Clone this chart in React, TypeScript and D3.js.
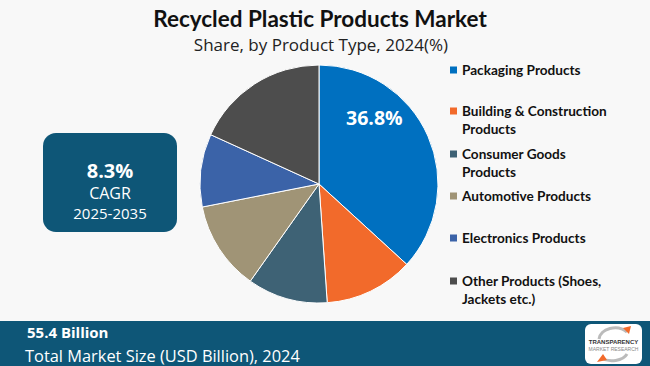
import React, { useEffect, useRef } from 'react';
import * as d3 from 'd3';

// 製品タイプ別シェア (2024)
const categories = [
  'Packaging Products',
  'Building & Construction Products',
  'Consumer Goods Products',
  'Automotive Products',
  'Electronics Products',
  'Other Products (Shoes, Jackets etc.)',
];
const legendLines = [
  ['Packaging Products'],
  ['Building & Construction', 'Products'],
  ['Consumer Goods', 'Products'],
  ['Automotive Products'],
  ['Electronics Products'],
  ['Other Products (Shoes,', 'Jackets etc.)'],
];
const shares = [36.8, 12.1, 10.9, 12.1, 9.9, 18.2];
const colors = ['#0070c0', '#f26a2b', '#3e6275', '#a09476', '#3b63a8', '#4d4d4d'];
const legendY = [70, 111, 154, 196, 238, 281];

const W = 650;
const H = 366;

export default function App() {
  const svgRef = useRef<SVGSVGElement>(null);

  useEffect(() => {
    const svg = d3.select(svgRef.current);
    svg.selectAll('*').remove();

    svg.append('rect').attr('width', W).attr('height', H).attr('fill', '#f8f8f8');

    // タイトル
    svg.append('text')
      .attr('x', 320).attr('y', 27)
      .attr('text-anchor', 'middle')
      .style('font-family', 'Lato, sans-serif')
      .style('font-weight', 'bold')
      .style('font-size', '22.5px')
      .attr('fill', '#111')
      .text('Recycled Plastic Products Market');
    svg.append('text')
      .attr('x', 321).attr('y', 51)
      .attr('text-anchor', 'middle')
      .style('font-family', '"Open Sans", sans-serif')
      .style('font-size', '17px')
      .attr('fill', '#222')
      .text('Share, by Product Type, 2024(%)');

    // 円グラフ
    const cx = 319, cy = 184, r = 119;
    const pie = d3.pie<number>().sort(null).value(d => d);
    const arc = d3.arc<d3.PieArcDatum<number>>().innerRadius(0).outerRadius(r);
    const arcs = pie(shares);
    const g = svg.append('g').attr('transform', `translate(${cx},${cy})`);
    g.selectAll('path')
      .data(arcs)
      .enter()
      .append('path')
      .attr('d', arc)
      .attr('fill', (_d, i) => colors[i])
      .attr('stroke', '#ffffff')
      .attr('stroke-width', 1);

    // 最大スライスのラベル
    const labelArc = d3.arc<d3.PieArcDatum<number>>().innerRadius(r * 0.6).outerRadius(r * 0.6);
    const [lx, ly] = labelArc.centroid(arcs[0]);
    g.append('text')
      .attr('x', lx - 10).attr('y', ly - 38)
      .attr('text-anchor', 'middle')
      .attr('dominant-baseline', 'central')
      .style('font-family', '"Open Sans", sans-serif')
      .style('font-weight', 'bold')
      .style('font-size', '19.5px')
      .attr('fill', '#fff')
      .text(`${shares[0]}%`);

    // 凡例
    const leg = svg.append('g');
    categories.forEach((_c, i) => {
      const y = legendY[i];
      leg.append('rect')
        .attr('x', 450).attr('y', y - 3.5)
        .attr('width', 7).attr('height', 7)
        .attr('fill', colors[i]);
      legendLines[i].forEach((line, j) => {
        leg.append('text')
          .attr('x', 462).attr('y', y + j * 18)
          .attr('dominant-baseline', 'central')
          .style('font-family', 'Lato, sans-serif')
          .style('font-weight', 'bold')
          .style('font-size', '13.6px')
          .attr('fill', '#111')
          .text(line);
      });
    });

    // CAGR ボックス
    svg.append('rect')
      .attr('x', 43).attr('y', 133)
      .attr('width', 134).attr('height', 99)
      .attr('rx', 13)
      .attr('fill', '#0e5677');
    const boxText = [
      { t: '8.3%', y: 170, s: 20, w: 'bold' },
      { t: 'CAGR', y: 193, s: 16, w: 'normal' },
      { t: '2025-2035', y: 213, s: 15, w: 'normal' },
    ];
    boxText.forEach(b => {
      svg.append('text')
        .attr('x', 110).attr('y', b.y)
        .attr('text-anchor', 'middle')
        .attr('dominant-baseline', 'central')
        .style('font-family', '"Open Sans", sans-serif')
        .style('font-weight', b.w)
        .style('font-size', `${b.s}px`)
        .attr('fill', '#fff')
        .text(b.t);
    });

    // フッター
    svg.append('rect').attr('x', 0).attr('y', 321).attr('width', W).attr('height', H - 321).attr('fill', '#0e5677');
    svg.append('text')
      .attr('x', 27).attr('y', 332)
      .attr('dominant-baseline', 'central')
      .style('font-family', '"Open Sans", sans-serif')
      .style('font-weight', 'bold')
      .style('font-size', '15px')
      .attr('fill', '#fff')
      .text('55.4 Billion');
    svg.append('text')
      .attr('x', 25).attr('y', 355)
      .attr('dominant-baseline', 'central')
      .style('font-family', '"Open Sans", sans-serif')
      .style('font-size', '16.4px')
      .attr('fill', '#fff')
      .text('Total Market Size (USD Billion), 2024');

    // ロゴ
    const logo = svg.append('g').attr('transform', 'translate(585,324)');
    logo.append('rect').attr('width', 57).attr('height', 40).attr('rx', 6).attr('fill', '#fff');
    logo.append('path').attr('d', 'M14,15 A16,12 0 0 1 42,8').attr('fill', 'none').attr('stroke', '#bbb').attr('stroke-width', 3);
    logo.append('path').attr('d', 'M38,4 L46,2 L44,10 Z').attr('fill', '#f26a2b');
    logo.append('path').attr('d', 'M42,30 A16,10 0 0 1 16,34').attr('fill', 'none').attr('stroke', '#bbb').attr('stroke-width', 3);
    logo.append('path').attr('d', 'M18,30 L12,38 L22,36 Z').attr('fill', '#f26a2b');
    logo.append('text').attr('x', 28.5).attr('y', 20).attr('text-anchor', 'middle')
      .style('font-family', '"Liberation Sans", sans-serif').style('font-weight', 'bold').style('font-size', '6px')
      .attr('fill', '#333').text('TRANSPARENCY');
    logo.append('text').attr('x', 28.5).attr('y', 27).attr('text-anchor', 'middle')
      .style('font-family', '"Liberation Sans", sans-serif').style('font-size', '5px')
      .attr('fill', '#888').text('MARKET RESEARCH');
  }, []);

  return (
    <svg
      ref={svgRef}
      width={W}
      height={H}
      style={{ position: 'absolute', left: 0, top: 0, display: 'block' }}
    />
  );
}
